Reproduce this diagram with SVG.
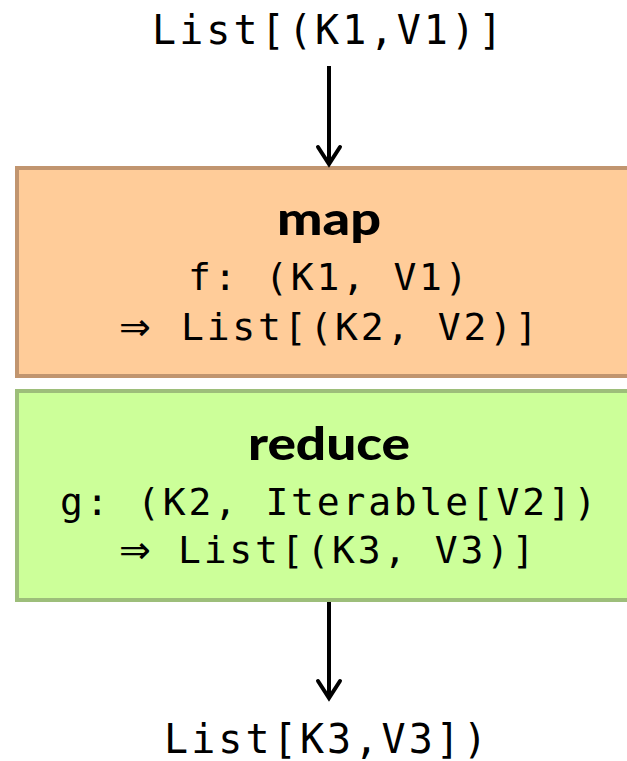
<svg xmlns="http://www.w3.org/2000/svg" width="627" height="761" viewBox="0 0 627 761">
<style>
.mono{font-family:"DejaVu Sans Mono","Liberation Mono",monospace;fill:#000}
.io{font-size:40px;letter-spacing:3.1px}
.sig{font-size:38px;letter-spacing:2.8px}
.arr{font-family:"DejaVu Sans",sans-serif;letter-spacing:0}
.title{font-family:Lato,"Open Sans",sans-serif;font-weight:900;font-size:46px;fill:#000;text-anchor:middle}
.conn{stroke:#000;stroke-width:4;fill:none}
.head{stroke:#000;stroke-width:4;fill:none;stroke-linecap:round;stroke-linejoin:miter}
</style>
<rect width="627" height="761" fill="#fff"/>
<g id="input">
<text class="mono io" x="152" y="44">List[(K1,V1)]</text>
</g>
<g id="map">
<rect x="17" y="168" width="630" height="208" fill="#FFCC99" stroke="#C1956F" stroke-width="4"/>
<text class="title" x="329" y="235" textLength="104" lengthAdjust="spacingAndGlyphs">map</text>
<text class="mono sig" x="188" y="290">f: (K1, V1)</text>
<text class="mono sig" x="119" y="340"><tspan class="arr">⇒</tspan> <tspan x="181">List[(K2, V2)]</tspan></text>
</g>
<g id="reduce">
<rect x="17" y="391" width="630" height="209" fill="#CCFF99" stroke="#9DBE7A" stroke-width="4"/>
<text class="title" x="329" y="460" textLength="162" lengthAdjust="spacingAndGlyphs">reduce</text>
<text class="mono sig" x="60" y="515">g: (K2, Iterable[V2])</text>
<text class="mono sig" x="119" y="563"><tspan class="arr">⇒</tspan> <tspan x="178">List[(K3, V3)]</tspan></text>
</g>
<g id="output">
<text class="mono io" x="164" y="753">List[K3,V3])</text>
</g>
<g id="connectors">
<line class="conn" x1="329" y1="66" x2="329" y2="163"/>
<polyline class="head" points="318,147 329,164 340,147"/>
<line class="conn" x1="329" y1="602" x2="329" y2="697"/>
<polyline class="head" points="318,681 329,698 340,681"/>
</g>
</svg>
